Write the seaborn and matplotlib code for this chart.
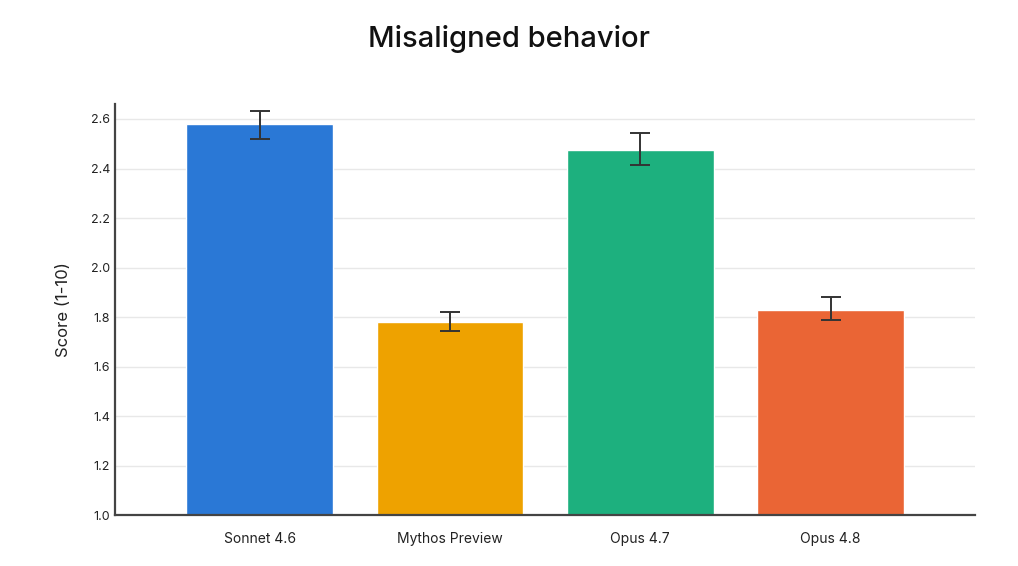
import pandas as pd
import matplotlib.pyplot as plt
import seaborn as sns

models = ['Sonnet 4.6', 'Mythos Preview', 'Opus 4.7', 'Opus 4.8']
scores = [2.58, 1.78, 2.476, 1.83]
err_low = [2.52, 1.745, 2.415, 1.79]
err_high = [2.633, 1.82, 2.543, 1.882]
colors = ['#2A78D6', '#EEA200', '#1DB07E', '#EA6535']

df = pd.DataFrame({'Model': models, 'Score': scores})

sns.set_theme(style='white')
plt.rcParams['font.family'] = ['Inter', 'DejaVu Sans']

fig = plt.figure(figsize=(10.18, 5.66), dpi=100)
ax = fig.add_axes([0.113, 0.090, 0.845, 0.726])

sns.barplot(data=df, x='Model', y='Score', hue='Model', palette=colors,
            saturation=1, width=0.77, errorbar=None, legend=False, ax=ax,
            zorder=2)

ylo = [s - l for s, l in zip(scores, err_low)]
yhi = [h - s for s, h in zip(scores, err_high)]
ax.errorbar(range(len(models)), scores, yerr=[ylo, yhi], fmt='none',
            ecolor='#333333', elinewidth=1.4, capsize=7.5, capthick=1.4, zorder=3)

ax.set_ylim(1.0, 2.66)
ax.set_xlim(-0.76, 3.76)
ax.set_yticks([1.0, 1.2, 1.4, 1.6, 1.8, 2.0, 2.2, 2.4, 2.6])
ax.set_yticklabels(['1.0', '1.2', '1.4', '1.6', '1.8', '2.0', '2.2', '2.4', '2.6'])
ax.yaxis.grid(True, color='#E8E8E8', linewidth=1, zorder=0)
ax.set_axisbelow(True)
ax.tick_params(axis='y', length=0, labelsize=9, colors='#222222')
ax.tick_params(axis='x', length=0, labelsize=10, colors='#222222', pad=12)
ax.set_xlabel('')
ax.set_ylabel('Score (1-10)', fontsize=12, color='#222222', labelpad=14)

for side in ['top', 'right']:
    ax.spines[side].set_visible(False)
for side in ['left', 'bottom']:
    ax.spines[side].set_color('#444444')
    ax.spines[side].set_linewidth(1.6)

fig.suptitle('Misaligned behavior', fontsize=21, fontweight='medium',
             y=0.955, color='#111111')

fig.savefig('out.png', dpi=100)
